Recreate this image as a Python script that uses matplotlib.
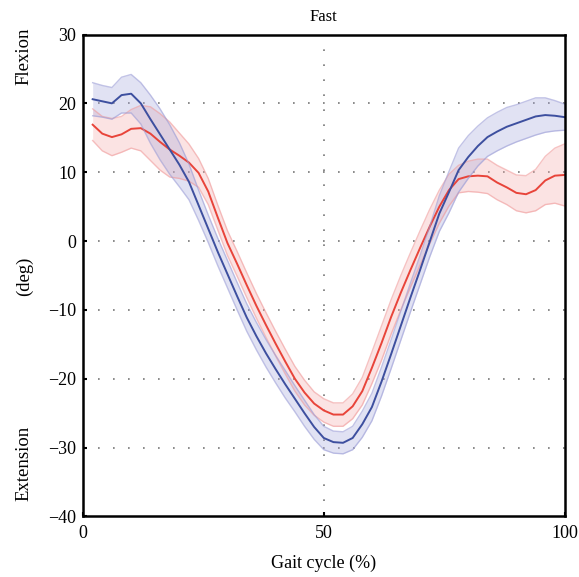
import matplotlib
matplotlib.use("Agg")
import matplotlib.pyplot as plt
import numpy as np

plt.rcParams['font.family'] = ['Liberation Serif', 'DejaVu Serif']

# Gait cycle (%)
gait = [2, 4, 6, 8, 10, 12, 14, 16, 18, 20, 22, 24, 26, 28, 30, 32, 34, 36, 38, 40,
        42, 44, 46, 48, 50, 52, 54, 56, 58, 60, 62, 64, 66, 68, 70, 72, 74, 76, 78, 80,
        82, 84, 86, 88, 90, 92, 94, 96, 98, 100]

# Blue series (mean and spread, deg)
blue_mean = [20.6, 20.3, 20.0, 21.2, 21.4, 20.0, 17.7, 15.5, 13.3, 11.1,
             8.6, 5.2, 1.8, -1.6, -4.8, -8.0, -11.1, -13.8, -16.3, -18.6,
             -20.8, -22.9, -25.0, -27.0, -28.6, -29.2, -29.3, -28.6, -26.6, -24.1,
             -20.4, -16.4, -12.3, -8.2, -4.2, -0.1, 4.0, 7.1, 10.3, 12.2,
             13.8, 15.1, 15.9, 16.6, 17.1, 17.6, 18.1, 18.3, 18.2, 18.0]
blue_sd = [2.4, 2.3, 2.3, 2.6, 2.8, 3.0, 3.5, 3.7, 3.6, 3.2,
           2.6, 2.2, 2.0, 2.0, 2.0, 2.0, 2.0, 2.0, 2.0, 2.0,
           2.0, 1.9, 1.9, 1.8, 1.7, 1.6, 1.6, 1.7, 1.9, 2.0,
           2.1, 2.1, 2.1, 2.1, 2.1, 2.2, 2.6, 3.0, 3.2, 3.1,
           2.9, 2.8, 2.8, 2.8, 2.7, 2.7, 2.7, 2.5, 2.2, 1.9]

# Red series (mean and spread, deg)
red_mean = [16.9, 15.6, 15.1, 15.5, 16.3, 16.4, 15.6, 14.4, 13.3, 12.4,
            11.4, 9.9, 7.2, 3.4, -0.3, -3.3, -6.4, -9.4, -12.2, -14.9,
            -17.5, -20.0, -22.0, -23.6, -24.6, -25.2, -25.2, -24.0, -21.8, -18.4,
            -14.8, -11.0, -7.5, -4.2, -1.0, 2.1, 5.0, 7.4, 9.0, 9.4,
            9.5, 9.4, 8.5, 7.8, 7.0, 6.8, 7.4, 8.8, 9.5, 9.6]
red_sd = [2.3, 2.5, 2.7, 2.6, 2.8, 3.3, 3.9, 4.1, 4.0, 3.3,
          2.7, 2.1, 1.9, 1.8, 1.8, 1.8, 1.8, 1.8, 1.8, 1.8,
          1.8, 1.8, 1.8, 1.7, 1.7, 1.7, 1.7, 1.8, 2.0, 2.3,
          2.5, 2.5, 2.5, 2.5, 2.5, 2.5, 2.4, 2.3, 2.0, 2.2,
          2.4, 2.5, 2.5, 2.5, 2.6, 2.7, 3.0, 3.5, 4.0, 4.5]

yticks = [-40, -30, -20, -10, 0, 10, 20, 30]
xticks = [0, 50, 100]
ygrid = [-30, -20, -10, 0, 10, 20]
xgrid = [50]

fig = plt.figure(figsize=(5.79, 5.77), dpi=100)
ax = fig.add_axes([0.1434, 0.1049, 0.8316, 0.8353])

x = np.array(gait)
for mean, sd, line_c, fill_c, edge_c in [
        (red_mean, red_sd, '#e8443a', '#f5a9a9', '#f09a9a'),
        (blue_mean, blue_sd, '#3d4f9f', '#a3a5dc', '#9a9cd6')]:
    m = np.array(mean)
    s = np.array(sd)
    ax.fill_between(x, m - s, m + s, color=fill_c, alpha=0.32, lw=0)
    ax.plot(x, m + s, color=edge_c, lw=1.0, alpha=0.6)
    ax.plot(x, m - s, color=edge_c, lw=1.0, alpha=0.6)
    ax.plot(x, m, color=line_c, lw=1.4)

for gy in ygrid:
    ax.axhline(gy, color='#777777', lw=1.2, ls=(0, (1, 8)), zorder=0)
for gx in xgrid:
    ax.axvline(gx, color='#777777', lw=1.2, ls=(0, (1, 8)), zorder=0)

ax.set_xlim(0, 100)
ax.set_ylim(-40, 30)
ax.set_xticks(xticks)
ax.set_yticks(yticks)
ax.tick_params(direction='in', length=3, width=1.5, labelsize=13,
               top=False, right=False)
ax.tick_params(axis='x', pad=6)
ax.tick_params(axis='y', pad=5)
for sp in ax.spines.values():
    sp.set_linewidth(1.8)

ax.set_title('Fast', fontsize=12, pad=10)
ax.set_xlabel('Gait cycle (%)', fontsize=13, labelpad=9)

fig.text(24 / 579, 1 - 56 / 577, 'Flexion', rotation=90, ha='center', va='center', fontsize=13.5)
fig.text(24 / 579, 1 - 276 / 577, '(deg)', rotation=90, ha='center', va='center', fontsize=13.5)
fig.text(24 / 579, 1 - 463 / 577, 'Extension', rotation=90, ha='center', va='center', fontsize=13.5)

fig.savefig('out.png', dpi=100)
